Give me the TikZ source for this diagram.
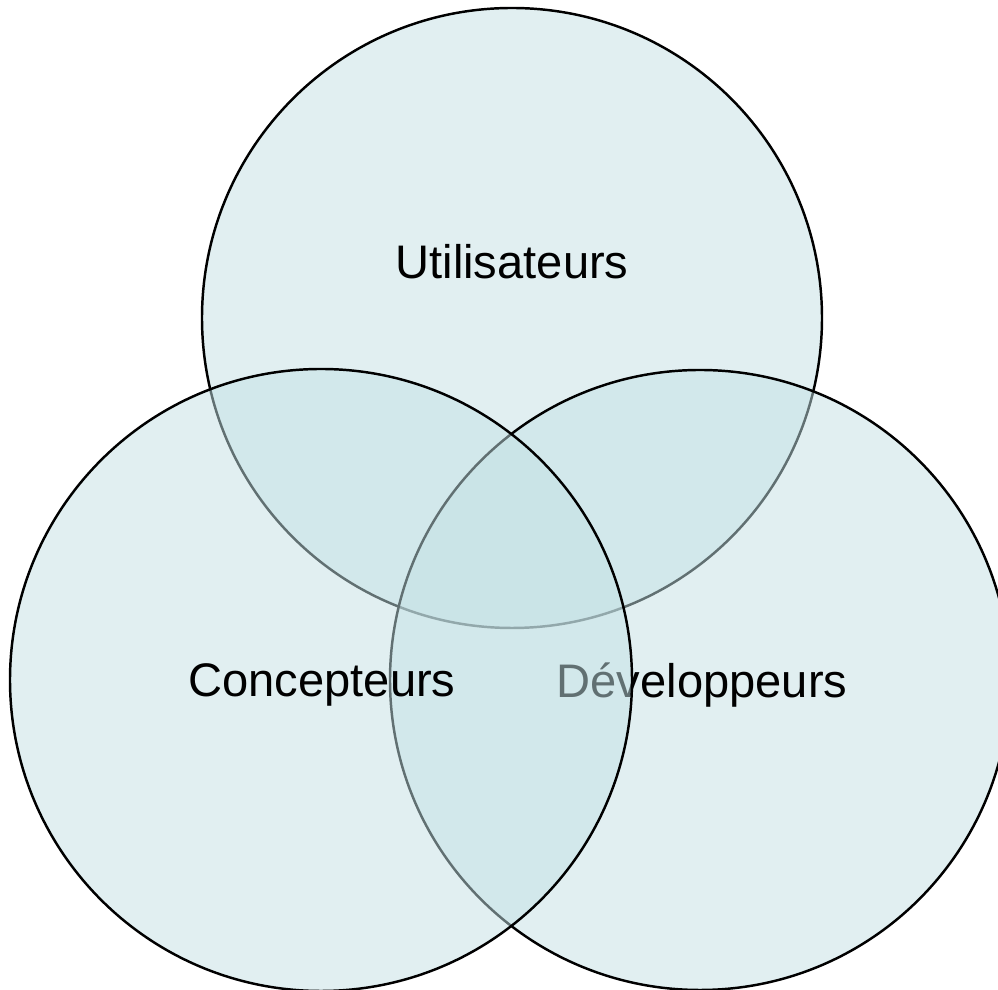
\documentclass[tikz,border=0pt]{standalone}
\usepackage{fontspec}
\setmainfont{Liberation Sans}
\usepackage{tikz}
\definecolor{setfill}{RGB}{195,224,228}

\begin{document}
\begin{tikzpicture}
  \useasboundingbox (0,0) rectangle (9.98,9.90);
  \tikzset{
    ensemble/.style={circle, draw=black, line width=0.7pt, fill=setfill, fill opacity=0.5, inner sep=0pt},
    nom/.style={anchor=base, font=\fontsize{13.4pt}{16pt}\selectfont, text=black}
  }

  \node[ensemble, minimum size=6.20cm] (util) at (5.12, 6.72) {};
  \node[nom] (utiltxt) at (5.12, 7.11) {Utilisateurs};

  \node[ensemble, minimum size=6.20cm] (dev) at (7.00, 3.10) {};
  \node[nom] (devtxt) at (7.02, 2.92) {Développeurs};

  \node[ensemble, minimum size=6.22cm] (conc) at (3.21, 3.10) {};
  \node[nom] (conctxt) at (3.22, 2.93) {Concepteurs};

\end{tikzpicture}
\end{document}
